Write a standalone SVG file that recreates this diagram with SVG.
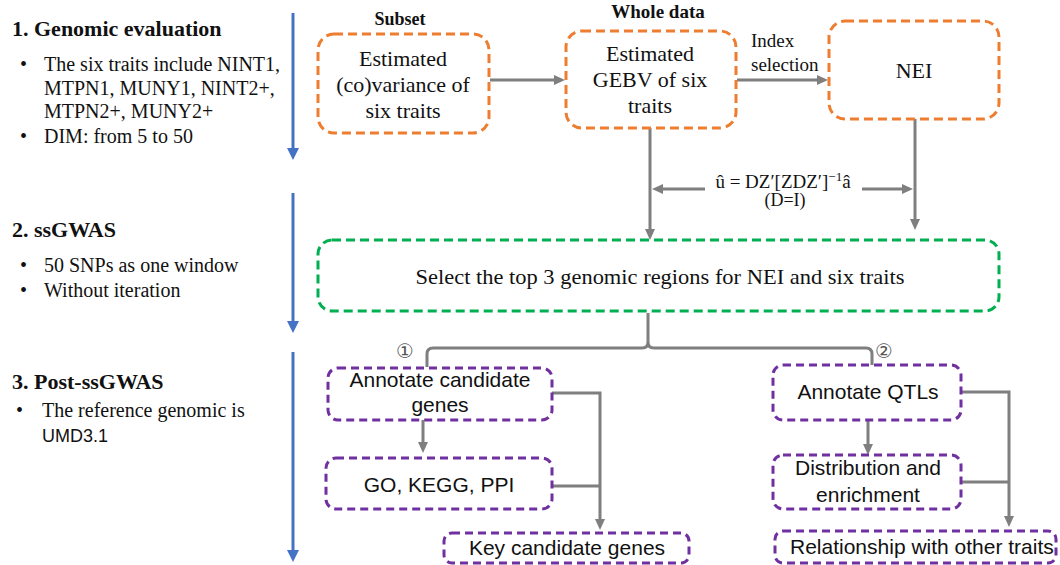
<svg xmlns="http://www.w3.org/2000/svg" width="1060" height="565" viewBox="0 0 1060 565">
<style>
.serif{font-family:"Liberation Serif","DejaVu Serif",serif;fill:#111}
.sans{font-family:"Liberation Sans","DejaVu Sans",sans-serif;fill:#111}
.h{font-weight:bold;font-size:22px}
.b{font-size:20px}
.ob{fill:#fff;stroke:#ED7D31;stroke-width:3;stroke-dasharray:9 5}
.gb{fill:#fff;stroke:#00B050;stroke-width:3;stroke-dasharray:9 5}
.pb{fill:#fff;stroke:#7030A0;stroke-width:3;stroke-dasharray:8 5}
.c{fill:none;stroke:#7F7F7F;stroke-width:3}
.bl{fill:none;stroke:#4472C4;stroke-width:3}
.ot{font-size:22px;text-anchor:middle}
.pt{font-size:21px;text-anchor:middle}
.num{font-family:"DejaVu Sans",sans-serif;font-size:20px;text-anchor:middle;fill:#555}
</style>
<defs>
<marker id="ag" markerUnits="userSpaceOnUse" markerWidth="11" markerHeight="10" refX="4" refY="5" orient="auto"><path d="M0,0 L11,5 L0,10 z" fill="#7F7F7F"/></marker>
<marker id="ab" markerUnits="userSpaceOnUse" markerWidth="12" markerHeight="12" refX="3" refY="6" orient="auto"><path d="M0,0 L12,6 L0,12 z" fill="#4472C4"/></marker>
</defs>

<g id="left-panel">
<text class="serif h" x="12" y="36">1. Genomic evaluation</text>
<text class="serif b" x="20" y="71">•</text>
<text class="serif b" x="44" y="71">The six traits include NINT1,</text>
<text class="serif b" x="44" y="95">MTPN1, MUNY1, NINT2+,</text>
<text class="serif b" x="44" y="118">MTPN2+, MUNY2+</text>
<text class="serif b" x="20" y="143">•</text>
<text class="serif b" x="44" y="143">DIM: from 5 to 50</text>

<text class="serif h" x="12" y="237">2. ssGWAS</text>
<text class="serif b" x="20" y="272">•</text>
<text class="serif b" x="44" y="272">50 SNPs as one window</text>
<text class="serif b" x="20" y="297">•</text>
<text class="serif b" x="44" y="297">Without iteration</text>

<text class="serif h" x="12" y="389">3. Post-ssGWAS</text>
<text class="serif b" x="16" y="417">•</text>
<text class="serif b" x="42" y="417">The reference genomic is</text>
<text class="sans" x="42" y="442" font-size="18">UMD3.1</text>
</g>

<g id="stage-arrows">
<line class="bl" x1="293" y1="13" x2="293" y2="151" marker-end="url(#ab)"/>
<line class="bl" x1="293" y1="193" x2="293" y2="324" marker-end="url(#ab)"/>
<line class="bl" x1="293" y1="352" x2="293" y2="553" marker-end="url(#ab)"/>
</g>

<g id="connectors">
<line class="c" x1="490" y1="80" x2="558" y2="80" marker-end="url(#ag)"/>
<line class="c" x1="737" y1="80" x2="821" y2="80" marker-end="url(#ag)"/>
<line class="c" x1="650" y1="128" x2="650" y2="233" marker-end="url(#ag)"/>
<line class="c" x1="915" y1="119" x2="915" y2="223" marker-end="url(#ag)"/>
<line class="c" x1="705" y1="189" x2="659" y2="189" marker-end="url(#ag)"/>
<line class="c" x1="862" y1="189" x2="906" y2="189" marker-end="url(#ag)"/>
<path class="c" d="M648,313 V342"/>
<path class="c" d="M427,367 V354 Q427,348 433,348 H642 Q648,348 648,342 Q648,348 654,348 H866 Q872,348 872,354 V366"/>
<line class="c" x1="423" y1="420" x2="423" y2="446" marker-end="url(#ag)"/>
<path class="c" d="M552,393 H600 V523" marker-end="url(#ag)"/>
<path class="c" d="M552,486 H600"/>
<line class="c" x1="868" y1="420" x2="868" y2="448" marker-end="url(#ag)"/>
<path class="c" d="M961,392 H1009 V520" marker-end="url(#ag)"/>
<path class="c" d="M961,482 H1009"/>
</g>

<g id="labels">
<text class="serif" x="400" y="25" font-size="18" font-weight="bold" text-anchor="middle">Subset</text>
<text class="serif" x="658" y="18" font-size="19" font-weight="bold" text-anchor="middle">Whole data</text>
<text class="serif" x="751" y="47" font-size="19">Index</text>
<text class="serif" x="751" y="71" font-size="19">selection</text>
<text class="serif" x="783" y="188" font-size="19" text-anchor="middle">û = DZ′[ZDZ′]<tspan font-size="13" dy="-7">−1</tspan><tspan dy="7">â</tspan></text>
<text class="serif" x="785" y="206" font-size="18" text-anchor="middle">(D=I)</text>
<text class="num" x="405" y="358">①</text>
<text class="num" x="884" y="358">②</text>
</g>

<g id="node-covariance">
<rect class="ob" x="318" y="34" width="171" height="99" rx="16"/>
<text class="serif ot" x="403" y="66">Estimated</text>
<text class="serif ot" x="403" y="92">(co)variance of</text>
<text class="serif ot" x="403" y="118">six traits</text>
</g>
<g id="node-gebv">
<rect class="ob" x="566" y="31" width="170" height="97" rx="16"/>
<text class="serif ot" x="650" y="61">Estimated</text>
<text class="serif ot" x="650" y="87">GEBV of six</text>
<text class="serif ot" x="650" y="113">traits</text>
</g>
<g id="node-nei">
<rect class="ob" x="829" y="21" width="170" height="98" rx="16"/>
<text class="serif ot" x="914" y="78">NEI</text>
</g>
<g id="node-select">
<rect class="gb" x="318" y="240" width="681" height="71" rx="14"/>
<text class="serif" x="660" y="284" font-size="22" text-anchor="middle" textLength="489" lengthAdjust="spacingAndGlyphs">Select the top 3 genomic regions for NEI and six traits</text>
</g>
<g id="node-annotate-genes">
<rect class="pb" x="328" y="368" width="224" height="52" rx="10"/>
<text class="sans pt" x="440" y="387">Annotate candidate</text>
<text class="sans pt" x="440" y="412">genes</text>
</g>
<g id="node-go">
<rect class="pb" x="326" y="458" width="226" height="51" rx="10"/>
<text class="sans pt" x="439" y="492">GO, KEGG, PPI</text>
</g>
<g id="node-key-genes">
<rect class="pb" x="444" y="533" width="245" height="30" rx="8"/>
<text class="sans pt" x="567" y="555">Key candidate genes</text>
</g>
<g id="node-annotate-qtls">
<rect class="pb" x="773" y="365" width="188" height="55" rx="10"/>
<text class="sans pt" x="868" y="399">Annotate QTLs</text>
</g>
<g id="node-distribution">
<rect class="pb" x="773" y="455" width="188" height="54" rx="10"/>
<text class="sans pt" x="868" y="475">Distribution and</text>
<text class="sans pt" x="868" y="502">enrichment</text>
</g>
<g id="node-relationship">
<rect class="pb" x="775" y="531" width="281" height="32" rx="8"/>
<text class="sans" x="790" y="554" font-size="21">Relationship with other traits</text>
</g>
</svg>
